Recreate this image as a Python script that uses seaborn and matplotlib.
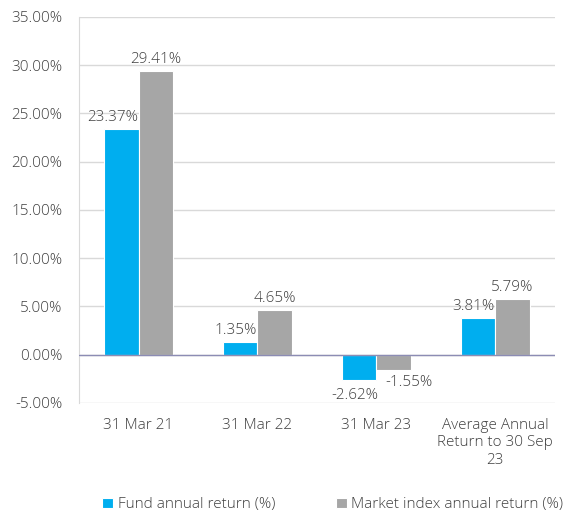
import pandas as pd
import matplotlib.pyplot as plt
import seaborn as sns

# Chart data
categories = ['31 Mar 21', '31 Mar 22', '31 Mar 23', 'Average Annual\nReturn to 30 Sep\n23']
fund_returns = [23.37, 1.35, -2.62, 3.81]
market_returns = [29.41, 4.65, -1.55, 5.79]
series_names = ['Fund annual return (%)', 'Market index annual return (%)']
y_ticks = [-5, 0, 5, 10, 15, 20, 25, 30, 35]

df = pd.DataFrame({
    'Period': categories * 2,
    'Return': fund_returns + market_returns,
    'Series': [series_names[0]] * 4 + [series_names[1]] * 4,
})

sns.set_style('white')
plt.rcParams['font.family'] = ['Open Sans', 'DejaVu Sans']
plt.rcParams['font.weight'] = 300
text_color = '#404040'
fs = 11

fig = plt.figure(figsize=(5.69, 5.14), dpi=100)
ax = fig.add_axes([0.139, 0.216, 0.836, 0.751])

sns.barplot(data=df, x='Period', y='Return', hue='Series',
            palette=['#00AEEF', '#A6A6A6'], saturation=1, width=0.58,
            edgecolor='white', linewidth=0.8, ax=ax, zorder=3)

ax.set_ylim(-5, 35)
ax.set_yticks(y_ticks)
ax.set_yticklabels([f'{v:.2f}%' for v in y_ticks], fontsize=fs, color=text_color)
ax.tick_params(axis='x', labelsize=fs, labelcolor=text_color, length=0, pad=11)
ax.tick_params(axis='y', length=0, pad=12)
ax.set_xlabel('')
ax.set_ylabel('')

ax.grid(axis='y', color='#d9d9d9', linewidth=1, zorder=0)
ax.axhline(0, color='#8c8cb4', linewidth=1, zorder=4)
for side in ['top', 'right', 'bottom']:
    ax.spines[side].set_visible(False)
ax.spines['left'].set_color('#d9d9d9')

# Data labels
fund_bars, market_bars = ax.containers[0], ax.containers[1]
ax.bar_label(fund_bars, labels=[f'{v:.2f}%' for v in fund_returns],
             padding=3, fontsize=fs, color=text_color)
ax.bar_label(market_bars, labels=[f'{v:.2f}%' for v in market_returns],
             padding=3, fontsize=fs, color=text_color)
for t, v in zip(ax.texts[:4], fund_returns):
    if v > 0:
        t.set_ha('right')
        t.xyann = (12, t.xyann[1])
    else:
        t.xyann = (-3, t.xyann[1] - 3)
for t, v in zip(ax.texts[4:], market_returns):
    if v < 0:
        t.xyann = (11, t.xyann[1] - 1)

leg = fig.legend(handles=ax.get_legend_handles_labels()[0],
                 labels=series_names, loc='center',
                 bbox_to_anchor=(0.585, 0.018), ncol=2,
                 frameon=False, fontsize=fs, handlelength=0.7, handleheight=0.7,
                 columnspacing=4.0, handletextpad=0.3)
ax.get_legend().remove()
for txt in leg.get_texts():
    txt.set_color(text_color)

plt.savefig('out.png', dpi=100)
